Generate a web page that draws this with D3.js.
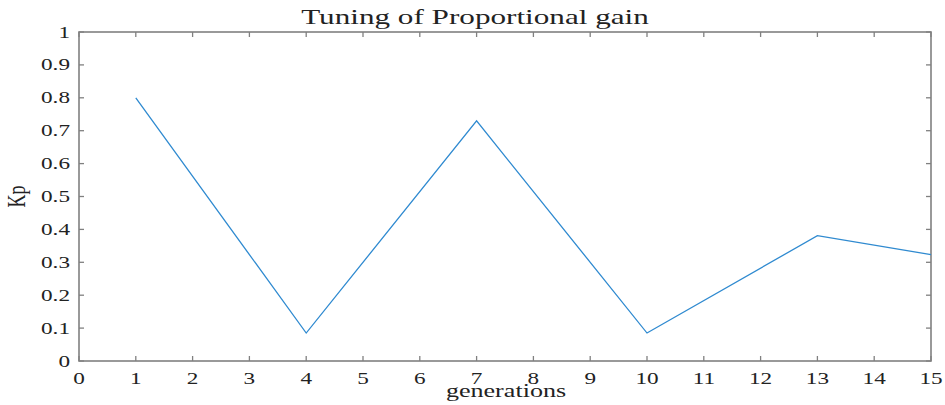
<!DOCTYPE html>
<html>
<head>
<meta charset="utf-8">
<script src="https://cdn.jsdelivr.net/npm/d3@7"></script>
<style>
  body { margin: 0; background: #fff; }
  svg { display: block; }
  text { font-family: "Liberation Serif", "Times New Roman", serif; fill: #222; }
</style>
</head>
<body>
<div id="graph-container"><svg></svg></div>
<script>
// Data.
const generations = [1, 4, 7, 10, 13, 15];
const kp = [0.80, 0.085, 0.73, 0.085, 0.381, 0.323];
const xTicks = d3.range(0, 16);
const yTicks = d3.range(0, 11).map(d => d / 10);
const title = 'Tuning of Proportional gain';
const xLabel = 'generations';
const yLabel = 'Kp';

const width = 945, height = 405;
const margin = { top: 32, right: 14, bottom: 44, left: 79 };
const stretch = 1.45; // picture is squashed wide

const svg = d3.select('svg').attr('width', width).attr('height', height);

const xScale = d3.scaleLinear().domain([0, 15]).range([margin.left, width - margin.right]);
const yScale = d3.scaleLinear().domain([0, 1]).range([height - margin.bottom, margin.top]);

const axisColor = '#808080';
const tickLen = 5;

// Box.
svg.append('rect')
  .attr('x', xScale(0)).attr('y', yScale(1))
  .attr('width', xScale(15) - xScale(0))
  .attr('height', yScale(0) - yScale(1))
  .attr('fill', 'none')
  .attr('stroke', axisColor)
  .attr('stroke-width', 1.6);

// Ticks on all four sides, pointing inward.
const ticks = svg.append('g').attr('stroke', axisColor).attr('stroke-width', 1.3);
xTicks.forEach(t => {
  ticks.append('line').attr('x1', xScale(t)).attr('x2', xScale(t))
    .attr('y1', yScale(0)).attr('y2', yScale(0) - tickLen);
  ticks.append('line').attr('x1', xScale(t)).attr('x2', xScale(t))
    .attr('y1', yScale(1)).attr('y2', yScale(1) + tickLen);
});
yTicks.forEach(t => {
  ticks.append('line').attr('y1', yScale(t)).attr('y2', yScale(t))
    .attr('x1', xScale(0)).attr('x2', xScale(0) + tickLen);
  ticks.append('line').attr('y1', yScale(t)).attr('y2', yScale(t))
    .attr('x1', xScale(15)).attr('x2', xScale(15) - tickLen);
});

// Helper for horizontally stretched text.
const label = (x, y, str, size, anchor, rotate) => svg.append('text')
  .attr('transform', rotate
    ? `translate(${x},${y}) scale(${stretch},1) rotate(-90)`
    : `translate(${x},${y}) scale(${stretch},1)`)
  .attr('text-anchor', anchor)
  .attr('font-size', size)
  .text(str);

// Tick labels.
xTicks.forEach(t => label(xScale(t), 384, t, 16, 'middle'));
yTicks.forEach(t => label(xScale(0) - 9, yScale(t) + 5.5, d3.format('~g')(t), 16, 'end'));

// Titles.
label(475, 24, title, 21.5, 'middle');
label(506, 397, xLabel, 18, 'middle');
label(25, yScale(0.5), yLabel, 18, 'middle', true);

// Line.
svg.append('path')
  .datum(generations.map((g, i) => [g, kp[i]]))
  .attr('fill', 'none')
  .attr('stroke', '#2f8ad0')
  .attr('stroke-width', 1.3)
  .attr('stroke-linejoin', 'miter')
  .attr('d', d3.line().x(d => xScale(d[0])).y(d => yScale(d[1])));
</script>
</body>
</html>
